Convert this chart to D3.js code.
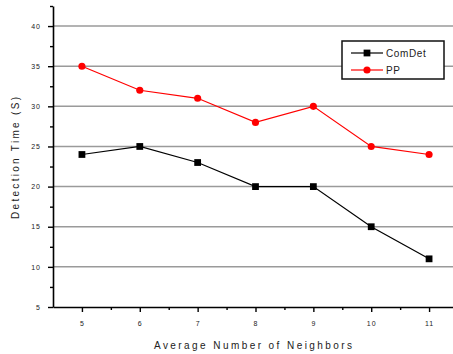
<!DOCTYPE html>
<head>
  <meta charset="utf-8">
  <title>Detection Time</title>
  <script src="https://d3js.org/d3.v7.min.js"></script>
  <style>
    body { margin: 0; background: #fff; }
    text { font-family: 'Liberation Sans', Arial, sans-serif; fill: #222; }
    .axis path { stroke: #000; stroke-width: 1.6; }
    .axis line { stroke: #000; stroke-width: 1.4; }
    .axis text { font-size: 7px; }
    .grid-line { stroke: #9a9a9a; stroke-width: 1.5; }
    .series-line { fill: none; stroke-width: 1.2; }
    .legend-box { fill: #fff; stroke: #111; stroke-width: 1.5; }
    .legend text { font-size: 10px; letter-spacing: 0.6px; }
    .axis-title { font-size: 10px; }
  </style>
</head>
<body>
  <script>
    // data
    var neighbors = [5, 6, 7, 8, 9, 10, 11];
    var comDet = [24, 25, 23, 20, 20, 15, 11];
    var pp = [35, 32, 31, 28, 30, 25, 24];
    var yTicks = [5, 10, 15, 20, 25, 30, 35, 40];
    var seriesNames = ["ComDet", "PP"];

    var W = 453, H = 354;
    var svg = d3.select("body").append("svg")
      .attr("width", W)
      .attr("height", H);

    var x = d3.scaleLinear().domain([4.5, 11.5]).range([53, 458]);
    var y = d3.scaleLinear().domain([5, 42.5]).range([307, 6]);

    var series = [
      {name: seriesNames[0], values: comDet, color: "#000", symbol: d3.symbolSquare, size: 46},
      {name: seriesNames[1], values: pp, color: "#ff0000", symbol: d3.symbolCircle, size: 40}
    ];

    // grid
    svg.append("g").selectAll("line")
      .data(yTicks.filter(d => d > 5))
      .enter().append("line")
        .attr("class", "grid-line")
        .attr("x1", x(4.5))
        .attr("x2", W)
        .attr("y1", d => y(d))
        .attr("y2", d => y(d));

    // minor ticks
    svg.append("g")
      .attr("class", "axis")
      .attr("transform", "translate(0," + y(5) + ")")
      .call(d3.axisBottom(x).tickValues(d3.range(5.5, 11.5, 1)).tickSize(3).tickFormat(""))
      .select("path").remove();
    svg.append("g")
      .attr("class", "axis")
      .attr("transform", "translate(" + x(4.5) + ",0)")
      .call(d3.axisLeft(y).tickValues(d3.range(7.5, 43, 5)).tickSize(3).tickFormat(""))
      .select("path").remove();

    // major axes
    svg.append("g")
      .attr("class", "axis")
      .attr("transform", "translate(0," + y(5) + ")")
      .call(d3.axisBottom(x).tickValues(neighbors).tickFormat(d3.format("d"))
        .tickSize(5).tickSizeOuter(0).tickPadding(9));
    svg.append("g")
      .attr("class", "axis")
      .attr("transform", "translate(" + x(4.5) + ",0)")
      .call(d3.axisLeft(y).tickValues(yTicks).tickFormat(d3.format("d"))
        .tickSize(5).tickSizeOuter(0).tickPadding(7));

    svg.selectAll(".axis text").attr("letter-spacing", "1px");

    // titles
    svg.append("text")
      .attr("class", "axis-title")
      .attr("x", 253)
      .attr("y", 349)
      .attr("text-anchor", "middle")
      .attr("textLength", 198)
      .text("Average Number of Neighbors");
    svg.append("text")
      .attr("class", "axis-title")
      .attr("transform", "translate(19,158) rotate(-90)")
      .attr("text-anchor", "middle")
      .attr("textLength", 122)
      .text("Detection Time (S)");

    // series
    var line = d3.line()
      .x((d, i) => x(neighbors[i]))
      .y(d => y(d));

    series.forEach(s => {
      svg.append("path")
        .attr("class", "series-line")
        .attr("d", line(s.values))
        .style("stroke", s.color);
      svg.append("g").selectAll("path")
        .data(s.values)
        .enter().append("path")
          .attr("transform", (d, i) => "translate(" + x(neighbors[i]) + "," + y(d) + ")")
          .attr("d", d3.symbol().type(s.symbol).size(s.size))
          .style("fill", s.color);
    });

    // legend
    var legend = svg.append("g").attr("class", "legend");
    legend.append("rect")
      .attr("class", "legend-box")
      .attr("x", 342).attr("y", 41)
      .attr("width", 102).attr("height", 38);
    series.forEach((s, i) => {
      var ly = 53 + i * 17;
      legend.append("line")
        .attr("x1", 351).attr("x2", 383)
        .attr("y1", ly).attr("y2", ly)
        .style("stroke", s.color)
        .style("stroke-width", 1.2);
      legend.append("path")
        .attr("transform", "translate(367," + ly + ")")
        .attr("d", d3.symbol().type(s.symbol).size(s.size))
        .style("fill", s.color);
      legend.append("text")
        .attr("x", 386).attr("y", ly + 3.5)
        .text(s.name);
    });
  </script>
</body>
